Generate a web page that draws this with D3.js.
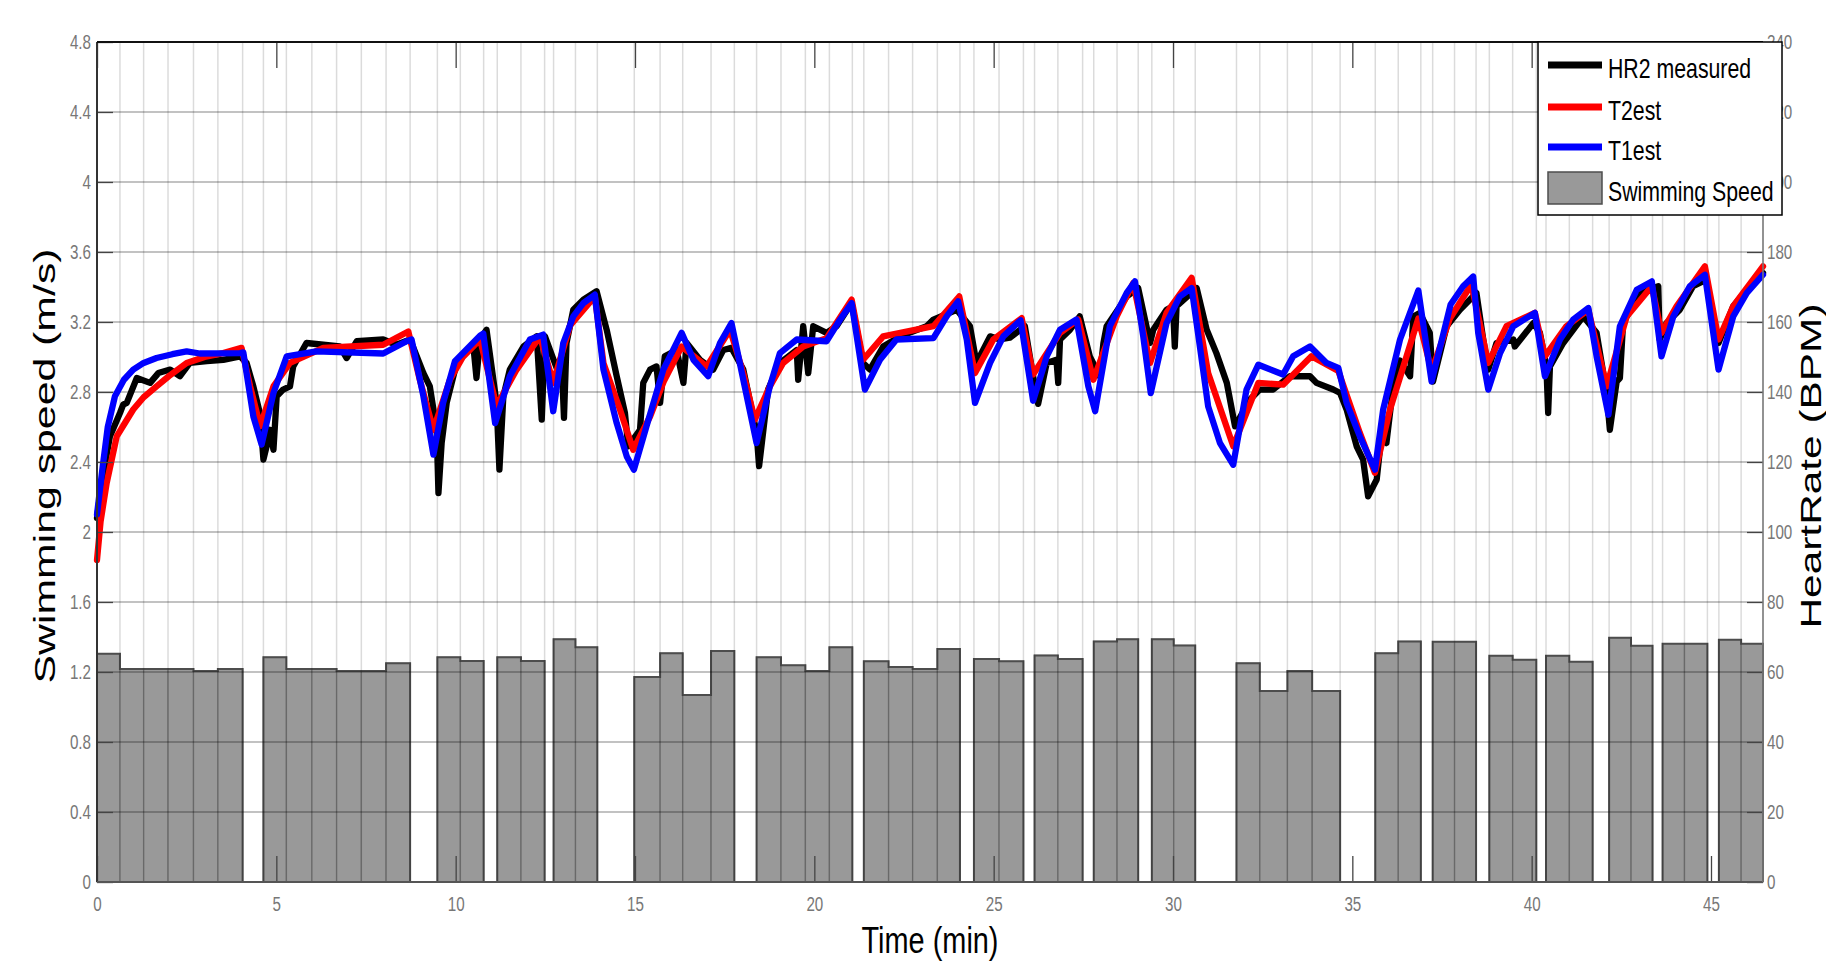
<!DOCTYPE html>
<html>
<head>
<meta charset="utf-8">
<script src="https://cdn.jsdelivr.net/npm/d3@7"></script>
<style>
  body { margin: 0; background: #fff; }
  text { font-family: "Liberation Sans", Arial, Helvetica, sans-serif; }
</style>
</head>
<body>
<script>
// ---- data ----
const timeTicks = [0, 5, 10, 15, 20, 25, 30, 35, 40, 45];
const speedTicks = [0, 0.4, 0.8, 1.2, 1.6, 2, 2.4, 2.8, 3.2, 3.6, 4, 4.4, 4.8];
const hrTicks = [0, 20, 40, 60, 80, 100, 120, 140, 160, 180, 200, 220, 240];

// swimming speed bars (min, min, m/s)
const barStart = [0, 0.64, 1.30, 1.98, 2.69, 3.37, 4.64, 5.28, 5.99, 6.68, 7.37, 8.06, 9.49, 10.13, 11.16, 11.82, 12.73, 13.34,
  14.98, 15.70, 16.33, 17.12, 18.39, 19.07, 19.75, 20.42, 21.38, 22.07, 22.74, 23.43, 24.45, 25.15, 26.14, 26.79, 27.79, 28.44,
  29.41, 30.02, 31.77, 32.42, 33.19, 33.88, 35.64, 36.28, 37.24, 37.85, 38.82, 39.47, 40.40, 41.05, 42.16, 42.77, 43.65, 44.26,
  45.22, 45.84];
const barEnd = [0.64, 1.30, 1.98, 2.69, 3.37, 4.06, 5.28, 5.99, 6.68, 7.37, 8.06, 8.73, 10.13, 10.78, 11.82, 12.48, 13.34, 13.95,
  15.70, 16.33, 17.12, 17.77, 19.07, 19.75, 20.42, 21.06, 22.07, 22.74, 23.43, 24.06, 25.15, 25.83, 26.79, 27.48, 28.44, 29.03,
  30.02, 30.62, 32.42, 33.19, 33.88, 34.66, 36.28, 36.91, 37.85, 38.45, 39.47, 40.13, 41.05, 41.70, 42.77, 43.37, 44.26, 44.90,
  45.84, 46.45];
const barSpeed = [1.305, 1.217, 1.217, 1.217, 1.206, 1.217, 1.284, 1.217, 1.217, 1.206, 1.206, 1.25, 1.284, 1.263, 1.284, 1.263, 1.387, 1.341,
  1.171, 1.307, 1.069, 1.32, 1.284, 1.238, 1.206, 1.341, 1.261, 1.229, 1.217, 1.331, 1.274, 1.261, 1.295, 1.274, 1.375, 1.387,
  1.387, 1.352, 1.25, 1.091, 1.206, 1.091, 1.307, 1.375, 1.373, 1.373, 1.293, 1.270, 1.293, 1.259, 1.396, 1.350, 1.362, 1.362,
  1.385, 1.362];

// heart rate series [min, BPM]
const hr2Measured = [[0,104],[0.13,114],[0.36,127.3],[0.64,134],[0.73,136.4],[0.83,136.9],[1.11,144],[1.48,142.6],[1.71,145.4],[2.04,146.4],
  [2.31,144.5],[2.59,148.3],[3.06,148.8],[3.52,149.2],[3.99,150.2],[4.17,148.3],[4.36,141.6],[4.54,134],[4.64,120.7],[4.73,124.5],
  [4.82,129.2],[4.92,123.5],[5.01,138.8],[5.19,140.7],[5.38,141.6],[5.47,147.3],[5.84,154],[6.31,153.5],[6.77,153],[6.96,149.7],
  [7.24,154.5],[7.98,155],[8.35,153.5],[8.73,155],[9.10,145.4],[9.28,141.6],[9.47,129.2],[9.52,111.1],[9.61,125.5],[9.75,136.9],
  [10.03,148.3],[10.49,153.5],[10.58,144],[10.68,155],[10.86,157.8],[11.14,136.9],[11.22,117.8],[11.33,138.8],[11.51,146.4],[11.89,153],
  [12.26,155.9],[12.40,132.1],[12.49,155.9],[12.63,152],[12.81,147],[12.95,150],[13.02,132.6],[13.09,154],[13.28,163.5],[13.56,166.4],
  [13.93,168.8],[14.21,157.8],[14.49,144.5],[14.72,134],[14.81,124.5],[15.14,129.2],[15.23,142.6],[15.42,146.4],[15.60,147.3],[15.70,136.9],
  [15.83,150.2],[16.16,152],[16.35,142.6],[16.44,154],[16.81,149.2],[17.18,146.4],[17.46,152],[17.69,152.6],[18.02,146.4],[18.39,128.3],
  [18.46,118.8],[18.58,129.2],[18.71,140.7],[19.04,148.3],[19.51,152],[19.55,143.5],[19.69,158.8],[19.83,145.4],[19.97,158.8],[20.34,156.9],
  [20.62,158.8],[21.04,165.4],[21.36,148.3],[21.55,146.4],[21.92,153],[22.39,155.9],[23.13,158.8],[23.32,160.7],[23.97,163.5],[24.34,158.8],
  [24.52,148.3],[24.90,155.9],[25.17,155],[25.45,155.5],[25.87,158.8],[26.10,144.5],[26.24,136.6],[26.48,148.3],[26.75,149.2],[26.80,142.6],
  [26.85,155],[27.13,157.8],[27.40,161.6],[27.68,150.2],[27.96,144.5],[28.06,154],[28.15,158.8],[28.71,167.3],[29.03,169.7],[29.36,154],
  [29.45,157.8],[29.82,163.5],[30.0,164.5],[30.05,153],[30.10,164.5],[30.66,169.7],[30.94,157.8],[31.21,151.1],[31.50,142.6],[31.73,130.2],
  [32.14,137.8],[32.42,140.7],[32.79,140.7],[33.26,144.5],[33.82,144.5],[34.0,142.6],[34.47,140.7],[34.66,139.7],[34.84,135],[35.12,124.5],
  [35.30,120.7],[35.44,110.2],[35.68,115],[35.81,127.3],[35.95,125.4],[36.14,141.6],[36.33,149],[36.61,144.5],[36.70,161.6],[36.88,162.6],
  [37.16,156.9],[37.25,143],[37.63,158.8],[38.0,163.5],[38.46,168.3],[38.65,155],[38.79,146.4],[39.02,154],[39.49,155],[39.53,153],
  [40.05,159.7],[40.23,156.9],[40.41,147.3],[40.46,134],[40.51,147.3],[40.88,154],[41.44,161.6],[41.81,156.9],[42.09,139.7],[42.18,129.2],
  [42.37,143],[42.46,144],[42.55,159.7],[43.02,168.3],[43.53,170.2],[43.57,155],[43.76,159.7],[44.13,163.5],[44.50,170.2],[44.87,172.1],
  [45.21,154],[45.62,164.5],[46.0,169.2],[46.45,174]];

const t2Est = [[0,92],[0.1,103],[0.27,114],[0.55,127.3],[0.8,131.5],[1.01,135],[1.3,138.5],[1.66,141.6],[2.0,144.5],[2.5,148.3],
  [3.0,150],[3.52,151.1],[4.03,152.6],[4.27,141.6],[4.55,130.2],[4.92,141.6],[5.38,148.3],[6.31,152.6],[7.98,153.5],[8.68,157.3],
  [9.0,143.5],[9.38,129.2],[9.84,143.5],[10.2,150],[10.68,155],[11.14,136],[11.70,146.4],[12.35,155.9],[12.72,142.6],[13.19,159],
  [13.72,165.4],[13.88,167.3],[14.12,148.3],[14.58,135],[14.95,123.5],[15.42,133],[15.8,143],[16.30,153],[17.0,147.3],[17.65,157.8],
  [18.02,145.4],[18.34,132.1],[18.76,141.6],[19.13,148.3],[19.69,153],[20.34,155.4],[21.04,166.4],[21.36,149.2],[21.92,155.9],[23.32,158.8],
  [24.04,167.3],[24.48,145.4],[24.99,155],[25.78,161.1],[26.10,145],[26.85,156.9],[27.36,160.7],[27.78,143.5],[28.43,161.6],[28.89,171.1],
  [29.36,148.3],[29.82,162.6],[30.52,172.6],[30.98,145.4],[31.68,124.5],[32.38,142.6],[33.07,142.1],[33.86,150.2],[34.61,146],[35.21,128.3],
  [35.63,116.9],[36.05,135],[36.84,161],[37.21,146],[37.72,161],[38.32,170.7],[38.79,148.3],[39.30,158.8],[40.09,162.6],[40.37,150.2],
  [40.97,158.8],[41.58,163.5],[42.09,141.6],[42.65,161.6],[43.35,170.2],[43.62,156.9],[44.04,164.5],[44.83,175.9],[45.21,155],[45.62,164.5],
  [46.45,175.9]];

const t1Est = [[0,105],[0.15,118],[0.3,130],[0.5,138.8],[0.75,143.5],[1.01,146.4],[1.3,148.3],[1.66,149.7],[2.1,150.8],[2.5,151.6],
  [2.87,151],[3.99,151.1],[4.08,151.3],[4.36,133],[4.59,125],[4.92,139.7],[5.29,150.2],[6.12,151.6],[7.98,151],[8.63,154.5],
  [8.77,155],[9.10,138.8],[9.38,122.1],[9.65,136.9],[9.98,148.8],[10.68,156.1],[10.77,156.7],[11.10,131.1],[11.51,144.5],[12.07,155],
  [12.44,156.4],[12.72,134.5],[13.0,154],[13.28,161.6],[13.56,165.4],[13.88,167.8],[14.12,146.4],[14.49,131.1],[14.77,121.6],[14.97,117.8],
  [15.32,130.2],[15.79,146.4],[16.30,156.9],[16.63,149.2],[17.04,144.5],[17.37,154],[17.69,159.7],[18.02,143.5],[18.39,125.4],[18.76,141.6],
  [19.04,151.1],[19.51,155],[20.34,154.5],[20.72,160.7],[21.04,165.4],[21.41,140.7],[21.83,149.2],[22.29,155],[23.32,155.4],[23.69,161.6],
  [24.01,165.9],[24.25,155],[24.48,136.9],[24.90,148.3],[25.27,155.9],[25.75,160.5],[26.10,137.5],[26.48,150.2],[26.85,157.8],[27.31,160.7],
  [27.64,141.6],[27.83,134.5],[28.24,158.8],[28.71,168.3],[28.94,171.6],[29.17,155.9],[29.38,139.7],[29.82,159.7],[30.19,167.3],[30.52,169.7],
  [30.75,153],[30.98,135.9],[31.31,125.4],[31.68,119.2],[32.05,140.7],[32.38,147.8],[33.07,145],[33.35,150.2],[33.82,153],[34.28,148.3],
  [34.61,146.9],[34.84,136.9],[35.21,127.3],[35.63,117.8],[35.86,135],[36.33,155],[36.84,169],[37.21,143],[37.74,165],[38.09,170.2],
  [38.37,173],[38.51,156.9],[38.79,140.7],[39.12,151.1],[39.49,158.8],[40.09,162.6],[40.37,144.5],[40.79,155],[41.16,160.7],[41.58,164],
  [41.81,150.2],[42.14,133.5],[42.46,158.8],[42.93,169.2],[43.35,171.6],[43.62,150.2],[43.95,161.6],[44.41,170.2],[44.83,173.5],[45.21,146.4],
  [45.62,161.6],[46.0,168.3],[46.45,173.5]];

const legendLabels = ["HR2 measured", "T2est", "T1est", "Swimming Speed"];

// ---- layout ----
const width = 1826, height = 963;
const plotL = 97, plotR = 1763, plotT = 42, plotB = 882;

const x = d3.scaleLinear().domain([0, 46.45]).range([plotL, plotR]);
const ySpeed = d3.scaleLinear().domain([0, 4.8]).range([plotB, plotT]);
const yHR = d3.scaleLinear().domain([0, 240]).range([plotB, plotT]);

const svg = d3.select("body").append("svg")
  .attr("width", width).attr("height", height);

// squeeze text horizontally (the original picture is stretched vertically)
function squeeze(sel, f) {
  sel.each(function() {
    const w = this.getComputedTextLength();
    d3.select(this).attr("textLength", w * f).attr("lengthAdjust", "spacingAndGlyphs");
  });
}

// bars
const bars = barStart.map((s, i) => ({s: s, e: barEnd[i], v: barSpeed[i]}));

svg.append("g").selectAll("rect")
  .data(bars)
  .enter().append("rect")
  .attr("x", d => x(d.s))
  .attr("width", d => x(d.e) - x(d.s))
  .attr("y", d => ySpeed(d.v))
  .attr("height", d => ySpeed(0) - ySpeed(d.v))
  .attr("fill", "#999999")
  .attr("stroke", "#7b7b7b")
  .attr("stroke-width", 1.2);

// outline of each run of touching bars
const groups = [];
bars.forEach((d, i) => {
  if (i > 0 && Math.abs(d.s - bars[i - 1].e) < 0.01) groups[groups.length - 1].push(d);
  else groups.push([d]);
});
svg.append("g").selectAll("path")
  .data(groups)
  .enter().append("path")
  .attr("d", g => {
    let p = "M" + x(g[0].s) + "," + ySpeed(0);
    g.forEach(d => { p += "L" + x(d.s) + "," + ySpeed(d.v) + "L" + x(d.e) + "," + ySpeed(d.v); });
    p += "L" + x(g[g.length - 1].e) + "," + ySpeed(0);
    return p;
  })
  .attr("fill", "none")
  .attr("stroke", "#4d4d4d")
  .attr("stroke-width", 2);

// grid (drawn over the bars)
const edges = Array.from(new Set(bars.flatMap(d => [d.s, d.e]))).filter(t => t > 0.01 && t < 46.4);
svg.append("g").selectAll("line")
  .data(edges)
  .enter().append("line")
  .attr("x1", d => x(d)).attr("x2", d => x(d))
  .attr("y1", plotT).attr("y2", plotB)
  .attr("stroke", "#000").attr("stroke-opacity", 0.14).attr("stroke-width", 1.5);

svg.append("g").selectAll("line")
  .data(speedTicks.slice(1, -1))
  .enter().append("line")
  .attr("x1", plotL).attr("x2", plotR)
  .attr("y1", d => ySpeed(d)).attr("y2", d => ySpeed(d))
  .attr("stroke", "#000").attr("stroke-opacity", 0.32).attr("stroke-width", 1.7);

// heart rate lines
const line = d3.line().x(d => x(d[0])).y(d => yHR(d[1]));
[[hr2Measured, "#000000"], [t2Est, "#ff0000"], [t1Est, "#0000ff"]].forEach(s => {
  svg.append("path")
    .datum(s[0])
    .attr("d", line)
    .attr("fill", "none")
    .attr("stroke", s[1])
    .attr("stroke-width", 6.3)
    .attr("stroke-linejoin", "round")
    .attr("stroke-linecap", "round");
});

// axes
function styleAxis(g) {
  g.select(".domain").remove();
  g.selectAll(".tick line").attr("stroke", "#444").attr("stroke-width", 1.3);
  g.selectAll(".tick text").attr("fill", "#777").style("font-size", "20.5px")
    .style("font-family", "'Liberation Sans', Arial, sans-serif");
  squeeze(g.selectAll(".tick text"), 0.74);
}

svg.append("g")
  .attr("transform", `translate(0,${plotB})`)
  .call(d3.axisBottom(x).tickValues(timeTicks).tickSizeInner(-26).tickSizeOuter(0).tickPadding(14).tickFormat(d3.format("d")))
  .call(styleAxis);

svg.append("g")
  .attr("transform", `translate(0,${plotT})`)
  .call(d3.axisTop(x).tickValues(timeTicks).tickSizeInner(-26).tickSizeOuter(0).tickFormat(""))
  .call(styleAxis);

svg.append("g")
  .attr("transform", `translate(${plotL},0)`)
  .call(d3.axisLeft(ySpeed).tickValues(speedTicks).tickSizeInner(-16).tickSizeOuter(0).tickPadding(6).tickFormat(d3.format("~g")))
  .call(styleAxis);

svg.append("g")
  .attr("transform", `translate(${plotR},0)`)
  .call(d3.axisRight(yHR).tickValues(hrTicks).tickSizeInner(-16).tickSizeOuter(0).tickPadding(4).tickFormat(d3.format("d")))
  .call(styleAxis);

// frame
svg.append("line").attr("x1", plotL).attr("x2", plotL).attr("y1", plotT).attr("y2", plotB).attr("stroke", "#333").attr("stroke-width", 2);
svg.append("line").attr("x1", plotL).attr("x2", plotR).attr("y1", plotB).attr("y2", plotB).attr("stroke", "#555").attr("stroke-width", 2);
svg.append("line").attr("x1", plotL).attr("x2", plotR).attr("y1", plotT).attr("y2", plotT).attr("stroke", "#111").attr("stroke-width", 2);
svg.append("line").attr("x1", plotR).attr("x2", plotR).attr("y1", plotT).attr("y2", plotB).attr("stroke", "#777").attr("stroke-width", 1.6);

// axis titles
svg.append("text")
  .attr("x", (plotL + plotR) / 2).attr("y", 953)
  .attr("text-anchor", "middle")
  .style("font-size", "37.5px")
  .attr("textLength", 137).attr("lengthAdjust", "spacingAndGlyphs")
  .text("Time (min)");

svg.append("text")
  .attr("transform", "translate(55,466) rotate(-90)")
  .attr("text-anchor", "middle")
  .style("font-size", "30px")
  .attr("textLength", 435).attr("lengthAdjust", "spacingAndGlyphs")
  .text("Swimming speed (m/s)");

svg.append("text")
  .attr("transform", "translate(1821,466) rotate(-90)")
  .attr("text-anchor", "middle")
  .style("font-size", "29px")
  .attr("textLength", 325).attr("lengthAdjust", "spacingAndGlyphs")
  .text("HeartRate (BPM)");

// legend
const lg = svg.append("g");
lg.append("rect")
  .attr("x", 1538).attr("y", 42).attr("width", 244).attr("height", 173)
  .attr("fill", "#fff").attr("stroke", "#000").attr("stroke-width", 1.5);

const lgColors = ["#000000", "#ff0000", "#0000ff"];
const lgY = [65, 107, 147];
lgColors.forEach((c, i) => {
  lg.append("line")
    .attr("x1", 1548).attr("x2", 1602).attr("y1", lgY[i]).attr("y2", lgY[i])
    .attr("stroke", c).attr("stroke-width", 7);
});
lg.append("rect")
  .attr("x", 1548).attr("y", 172).attr("width", 54).attr("height", 32)
  .attr("fill", "#999999").attr("stroke", "#4d4d4d").attr("stroke-width", 1.5);

const lgBase = [78, 120, 160, 201];
const lgText = lg.selectAll("text.lab")
  .data(legendLabels)
  .enter().append("text")
  .attr("class", "lab")
  .attr("x", 1608)
  .attr("y", (d, i) => lgBase[i])
  .style("font-size", "28px")
  .attr("fill", "#000")
  .text(d => d);
squeeze(lgText, 0.76);
</script>
</body>
</html>
